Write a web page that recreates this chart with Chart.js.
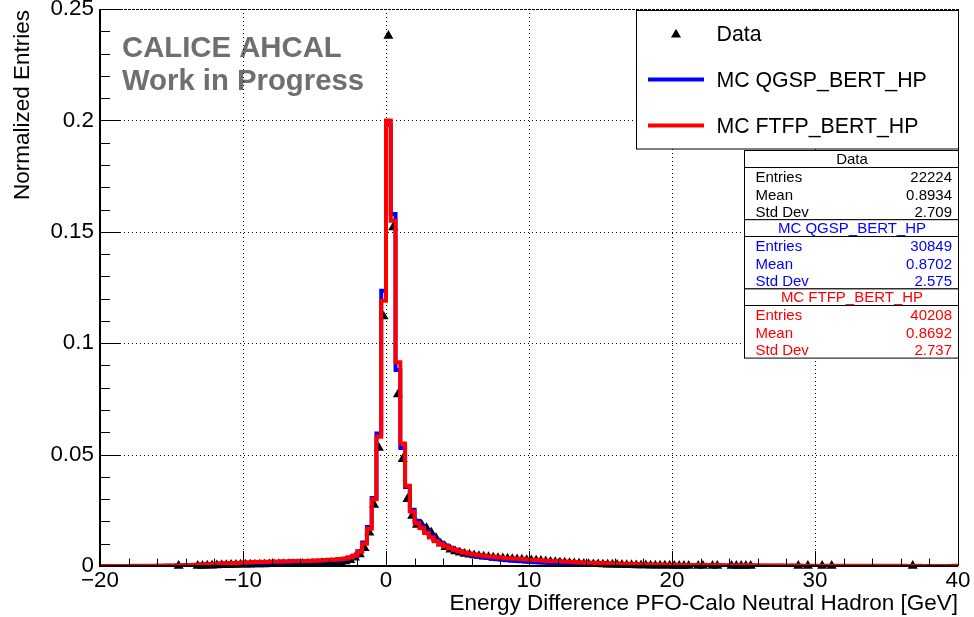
<!DOCTYPE html>
<html>
<head>
<meta charset="utf-8">
<style>
  html, body { margin: 0; padding: 0; background: #ffffff; }
  #wrap { width: 974px; height: 617px; }
</style>
<script src="https://cdn.jsdelivr.net/npm/chart.js@4.4.1/dist/chart.umd.min.js"></script>
</head>
<body>
<div id="wrap"><canvas id="c" width="974" height="617"></canvas></div>
<script>
// Histogram binning: 180 bins from -20 to 40 GeV
const xMin = -20;
const xMax = 40;

// MC FTFP_BERT_HP, normalized bin contents (15 bins = 5 GeV per row)
const ftfpValues = [
  0, 0, 0, 0.00005, 0, 0.00005, 0.00005, 0.0001, 0.00005, 0.0001, 0.0001, 0.0001, 0.00015, 0.00015, 0.0002,
  0.0002, 0.00025, 0.0003, 0.0004, 0.0005, 0.0006, 0.0007, 0.0008, 0.0009, 0.001, 0.0011, 0.0012, 0.0013, 0.0014, 0.0015,
  0.0016, 0.0017, 0.0018, 0.0018, 0.0019, 0.0019, 0.002, 0.002, 0.0021, 0.0021, 0.0022, 0.0022, 0.0023, 0.0023, 0.0024,
  0.0025, 0.0026, 0.0027, 0.0028, 0.0029, 0.0031, 0.0034, 0.0039, 0.0047, 0.0064, 0.0100, 0.0167, 0.0300, 0.0580, 0.1190,
  0.2000, 0.1550, 0.0915, 0.0550, 0.0360, 0.0245, 0.0192, 0.0170, 0.0148, 0.0128, 0.0111, 0.0099, 0.0089, 0.0080, 0.0073,
  0.0066, 0.0061, 0.0056, 0.0052, 0.0049, 0.0046, 0.0043, 0.0041, 0.0039, 0.0037, 0.0035, 0.0034, 0.0032, 0.0031, 0.0029,
  0.0028, 0.0027, 0.0026, 0.0024, 0.0023, 0.0022, 0.0021, 0.0020, 0.0019, 0.0018, 0.0017, 0.0016, 0.0015, 0.0015, 0.0014,
  0.0013, 0.0012, 0.0012, 0.0011, 0.0010, 0.0010, 0.0009, 0.0009, 0.0008, 0.0008, 0.0007, 0.0007, 0.0007, 0.0006, 0.0006,
  0.0006, 0.0005, 0.0005, 0.0005, 0.0005, 0.0004, 0.0004, 0.0004, 0.0004, 0.0004, 0.0003, 0.0003, 0.0003, 0.0003, 0.0003,
  0.0003, 0.0003, 0.0003, 0.00025, 0.00025, 0.00025, 0.0002, 0.0002, 0.0002, 0.0002, 0.0002, 0.0002, 0.00015, 0.00015, 0.00015,
  0.00015, 0.00015, 0.00015, 0.00015, 0.0001, 0.0001, 0.0001, 0.0001, 0.0001, 0.0001, 0.0001, 0.0001, 0.0001, 0.0001, 0.0001,
  0.0001, 0.0001, 0.00005, 0.0001, 0.00005, 0.00005, 0.0001, 0.00005, 0.00005, 0.00005, 0.00005, 0.00005, 0.00005, 0.00005, 0.0001
];

// MC QGSP_BERT_HP, normalized bin contents
const qgspValues = [
  0, 0, 0, 0, 0, 0, 0, 0.00005, 0, 0.00005, 0.00005, 0.00005, 0.0001, 0.0001, 0.0001,
  0.00015, 0.0002, 0.0002, 0.0003, 0.0004, 0.0005, 0.0006, 0.0007, 0.0008, 0.0009, 0.001, 0.0011, 0.0012, 0.0013, 0.0013,
  0.0014, 0.0014, 0.0015, 0.0015, 0.0016, 0.0016, 0.0017, 0.0017, 0.0018, 0.0018, 0.0019, 0.0019, 0.002, 0.002, 0.0021,
  0.0022, 0.0023, 0.0024, 0.0025, 0.0026, 0.0028, 0.0031, 0.0036, 0.0045, 0.0066, 0.0105, 0.0175, 0.0305, 0.0595, 0.1235,
  0.1980, 0.1580, 0.0880, 0.0530, 0.0355, 0.0252, 0.0203, 0.0180, 0.0157, 0.0136, 0.0118, 0.0104, 0.0092, 0.0082, 0.0073,
  0.0065, 0.0058, 0.0052, 0.0047, 0.0043, 0.0039, 0.0036, 0.0033, 0.0030, 0.0028, 0.0026, 0.0024, 0.0022, 0.0021, 0.0019,
  0.0018, 0.0017, 0.0016, 0.0015, 0.0014, 0.0013, 0.0012, 0.0012, 0.0011, 0.0010, 0.0010, 0.0009, 0.0009, 0.0008, 0.0008,
  0.0007, 0.0007, 0.0006, 0.0006, 0.0006, 0.0005, 0.0005, 0.0005, 0.0004, 0.0004, 0.0004, 0.0004, 0.0003, 0.0003, 0.0003,
  0.0003, 0.0003, 0.00025, 0.00025, 0.0002, 0.0002, 0.0002, 0.0002, 0.00015, 0.00015, 0.00015, 0.00015, 0.0001, 0.0001, 0.0001,
  0.0001, 0.0001, 0.0001, 0.0001, 0.0001, 0.00005, 0.0001, 0.0001, 0.00005, 0.00005, 0.0001, 0.00005, 0.00005, 0.00005, 0.00005,
  0.00005, 0.00005, 0.00005, 0.00005, 0.00005, 0.00005, 0.00005, 0.00005, 0, 0.00005, 0.00005, 0, 0.00005, 0, 0.00005,
  0, 0.00005, 0, 0, 0.00005, 0, 0, 0.00005, 0, 0, 0, 0.00005, 0, 0, 0
];

// Data, normalized bin contents (null = empty bin)
const dataValues = [
  null, null, null, null, null, null, null, null, null, null, null, null, null, null, null,
  null, 0.00005, null, null, null, 0.00005, 0.0001, 0.0002, 0.0002, 0.0003, 0.0004, 0.0004, 0.0005, 0.0005, 0.0006,
  0.0006, 0.0006, 0.0007, 0.0007, 0.0007, 0.0008, 0.0008, 0.0008, 0.0009, 0.0009, 0.0009, 0.0010, 0.0010, 0.0010, 0.0011,
  0.0011, 0.0012, 0.0013, 0.0014, 0.0015, 0.0017, 0.0021, 0.0027, 0.0038, 0.0052, 0.0080, 0.0150, 0.0275, 0.0530, 0.1120,
  0.2380, 0.1520, 0.0770, 0.0480, 0.0300, 0.0225, 0.0185, 0.0185, 0.0170, 0.0150, 0.0125, 0.0100, 0.0085, 0.0074, 0.0066,
  0.0060, 0.0055, 0.0051, 0.0048, 0.0045, 0.0042, 0.0040, 0.0038, 0.0036, 0.0034, 0.0033, 0.0031, 0.0030, 0.0029, 0.0027,
  0.0026, 0.0025, 0.0023, 0.0021, 0.0019, 0.0018, 0.0016, 0.0015, 0.0013, 0.0012, 0.0011, 0.0010, 0.0009, 0.0008, 0.0008,
  0.0007, 0.0006, 0.0006, 0.0005, 0.0005, 0.0004, 0.0004, 0.0003, 0.0003, 0.0003, 0.0002, 0.0002, 0.0002, 0.00015, 0.00015,
  0.0001, 0.00005, 0.0001, 0.00005, null, 0.00005, 0.00005, null, 0.00005, 0.00005, null, null, 0.00005, 0.00005, 0.00005,
  0.00005, 0.00005, null, null, null, null, null, null, null, null, null, 0.00005, null, 0.00005, null,
  null, 0.00005, null, 0.00005, null, null, null, null, null, null, null, null, null, null, null,
  null, null, null, null, null, 0.00005, null, null, null, null, null, null, null, null, null
];

// Legend and statistics boxes
const seriesNames = ['Data', 'MC QGSP_BERT_HP', 'MC FTFP_BERT_HP'];
const seriesColors = ['#000000', '#0000ff', '#ff0000'];
const statEntries = ['22224', '30849', '40208'];
const statMeans = ['0.8934', '0.8702', '0.8692'];
const statStdDevs = ['2.709', '2.575', '2.737'];

const xTitle = 'Energy Difference PFO-Calo Neutral Hadron [GeV]';
const yTitle = 'Normalized Entries';
const bannerLines = ['CALICE AHCAL', 'Work in Progress'];

const FONT = '"Liberation Sans", Arial, Helvetica, sans-serif';

// Step outline points: left edge of every bin, plus the right edge of the last bin
function histPoints(values) {
  const w = (xMax - xMin) / values.length;
  const pts = values.map((v, k) => ({ x: xMin + k * w, y: v }));
  pts.push({ x: xMax, y: values[values.length - 1] });
  return pts;
}

// Marker points at bin centres, skipping empty bins
function markerPoints(values) {
  const w = (xMax - xMin) / values.length;
  const pts = [];
  values.forEach((v, k) => {
    if (v !== null) pts.push({ x: xMin + (k + 0.5) * w, y: v });
  });
  return pts;
}

function strokeLine(ctx, x1, y1, x2, y2) {
  ctx.beginPath();
  ctx.moveTo(x1, y1);
  ctx.lineTo(x2, y2);
  ctx.stroke();
}

function drawTriangle(ctx, cx, cy, r) {
  ctx.beginPath();
  ctx.moveTo(cx, cy - r);
  ctx.lineTo(cx + r * Math.sin(2 * Math.PI / 3), cy - r * Math.cos(2 * Math.PI / 3));
  ctx.lineTo(cx + r * Math.sin(4 * Math.PI / 3), cy - r * Math.cos(4 * Math.PI / 3));
  ctx.closePath();
  ctx.fill();
}

// Frame, grid, inward ticks, titles, legend and stats boxes in ROOT style
const rootStyle = {
  id: 'rootStyle',
  beforeDatasetsDraw(chart) {
    const { ctx, chartArea: a, scales } = chart;
    const xs = scales.x, ys = scales.y;
    ctx.save();

    // banner
    ctx.fillStyle = '#6f6f6f';
    ctx.font = 'bold 29.3px ' + FONT;
    ctx.textBaseline = 'alphabetic';
    ctx.textAlign = 'left';
    ctx.fillText(bannerLines[0], 122, 57);
    ctx.fillText(bannerLines[1], 122, 90);

    // dotted grid on the major ticks
    ctx.strokeStyle = '#000000';
    ctx.lineWidth = 1;
    ctx.setLineDash([1, 3]);
    xs.ticks.forEach(t => {
      if (t.value <= xs.min || t.value >= xs.max) return;
      const px = Math.round(xs.getPixelForValue(t.value)) + 0.5;
      strokeLine(ctx, px, a.top, px, a.bottom);
    });
    ys.ticks.forEach(t => {
      if (t.value <= ys.min || t.value >= ys.max) return;
      const py = Math.round(ys.getPixelForValue(t.value)) + 0.5;
      strokeLine(ctx, a.left, py, a.right, py);
    });
    // top edge
    ctx.setLineDash([3, 1]);
    strokeLine(ctx, a.left, a.top + 0.5, a.right, a.top + 0.5);
    ctx.restore();
  },
  afterDatasetsDraw(chart) {
    const { ctx, chartArea: a, scales } = chart;
    const xs = scales.x, ys = scales.y;
    ctx.save();
    ctx.setLineDash([]);
    ctx.strokeStyle = '#000000';

    // inward ticks: x major every 10, minor every 2; y major every 0.05, minor every 0.01
    ctx.lineWidth = 1;
    for (let i = 0; i <= 30; i++) {
      const px = Math.round(xs.getPixelForValue(xs.min + i * 2)) + 0.5;
      const len = (i % 5 === 0) ? 15 : 7.5;
      strokeLine(ctx, px, a.bottom, px, a.bottom - len);
    }
    for (let i = 0; i <= 25; i++) {
      const py = Math.round(ys.getPixelForValue(i * 0.01)) + 0.5;
      const len = (i % 5 === 0) ? 20 : 10;
      strokeLine(ctx, a.left, py, a.left + len, py);
    }

    // axis lines and right edge
    ctx.lineWidth = 2;
    strokeLine(ctx, a.left, a.top, a.left, a.bottom + 1);
    strokeLine(ctx, a.left - 1, a.bottom, a.right, a.bottom);
    ctx.lineWidth = 1;
    strokeLine(ctx, a.right + 0.5, a.top, a.right + 0.5, a.bottom);

    // axis titles
    ctx.fillStyle = '#000000';
    ctx.font = '22.5px ' + FONT;
    ctx.textAlign = 'right';
    ctx.textBaseline = 'alphabetic';
    ctx.fillText(xTitle, a.right, 610);
    ctx.save();
    ctx.translate(28.5, a.top + 1);
    ctx.rotate(-Math.PI / 2);
    ctx.textAlign = 'right';
    ctx.fillText(yTitle, 0, 0);
    ctx.restore();

    // legend
    const lg = { x: 636.5, y: 10.5, w: 322, h: 138.5 };
    ctx.fillStyle = '#ffffff';
    ctx.fillRect(lg.x, lg.y, lg.w, lg.h);
    ctx.lineWidth = 1;
    ctx.strokeRect(lg.x, lg.y, lg.w, lg.h);
    const rowY = [33.5, 79.5, 125.5];
    ctx.font = '21.3px ' + FONT;
    ctx.textAlign = 'left';
    ctx.textBaseline = 'alphabetic';
    seriesNames.forEach((name, i) => {
      if (i === 0) {
        ctx.fillStyle = seriesColors[0];
        drawTriangle(ctx, 676, rowY[i] + 1, 5.8);
      } else {
        ctx.strokeStyle = seriesColors[i];
        ctx.lineWidth = 4;
        strokeLine(ctx, 648, rowY[i], 704, rowY[i]);
      }
      ctx.fillStyle = '#000000';
      ctx.fillText(name, 716.5, rowY[i] + 7.5);
    });

    // statistics boxes
    const sx = 744, sw = 214, sh = 69.2;
    ctx.font = '15px ' + FONT;
    seriesNames.forEach((name, i) => {
      const top = 150 + i * sh;
      ctx.fillStyle = '#ffffff';
      ctx.fillRect(sx + 0.5, top + 0.5, sw, sh);
      ctx.strokeStyle = '#000000';
      ctx.lineWidth = 1;
      ctx.strokeRect(sx + 0.5, top + 0.5, sw, sh);
      strokeLine(ctx, sx + 0.5, Math.round(top + 16.5) + 0.5, sx + sw + 0.5, Math.round(top + 16.5) + 0.5);
      ctx.fillStyle = seriesColors[i];
      ctx.textAlign = 'center';
      ctx.fillText(name, sx + sw / 2 + 1, top + 14);
      const labels = ['Entries', 'Mean', 'Std Dev'];
      const vals = [statEntries[i], statMeans[i], statStdDevs[i]];
      const rows = [31.5, 49.5, 66.5];
      labels.forEach((lab, j) => {
        ctx.textAlign = 'left';
        ctx.fillText(lab, 755.5, top + rows[j]);
        ctx.textAlign = 'right';
        ctx.fillText(vals[j], 952, top + rows[j]);
      });
    });
    ctx.restore();
  }
};

Chart.defaults.font.family = FONT;

new Chart(document.getElementById('c'), {
  type: 'line',
  data: {
    datasets: [
      {
        label: seriesNames[2],
        data: histPoints(ftfpValues),
        borderColor: seriesColors[2],
        borderWidth: 4,
        stepped: 'before',
        pointRadius: 0,
        fill: false
      },
      {
        label: seriesNames[1],
        data: histPoints(qgspValues),
        borderColor: seriesColors[1],
        borderWidth: 4,
        stepped: 'before',
        pointRadius: 0,
        fill: false
      },
      {
        label: seriesNames[0],
        data: markerPoints(dataValues),
        showLine: false,
        pointStyle: 'triangle',
        pointRadius: 5.8,
        pointBorderWidth: 0,
        backgroundColor: seriesColors[0],
        borderColor: seriesColors[0],
        clip: false
      }
    ]
  },
  options: {
    responsive: false,
    devicePixelRatio: 1,
    animation: false,
    events: [],
    layout: { padding: { top: 9, right: 16, left: 0, bottom: 0 } },
    plugins: { legend: { display: false }, tooltip: { enabled: false } },
    scales: {
      x: {
        type: 'linear',
        min: xMin,
        max: xMax,
        grid: { display: false, drawTicks: false },
        border: { display: false },
        ticks: {
          stepSize: 10,
          autoSkip: false,
          maxRotation: 0,
          padding: 1,
          color: '#000000',
          font: { size: 22.4 },
          callback: v => (v < 0 ? '\u2212' + (-v) : String(v))
        },
        afterFit: s => { s.height = 51; s.paddingLeft = 0; s.paddingRight = 0; }
      },
      y: {
        type: 'linear',
        min: 0,
        max: 0.25,
        grid: { display: false, drawTicks: false },
        border: { display: false },
        ticks: {
          stepSize: 0.05,
          padding: 6,
          color: '#000000',
          font: { size: 22.4 },
          callback: v => String(Math.round(v * 100) / 100)
        },
        afterFit: s => { s.width = 100; s.paddingTop = 0; s.paddingBottom = 0; }
      }
    }
  },
  plugins: [rootStyle]
});
</script>
</body>
</html>
